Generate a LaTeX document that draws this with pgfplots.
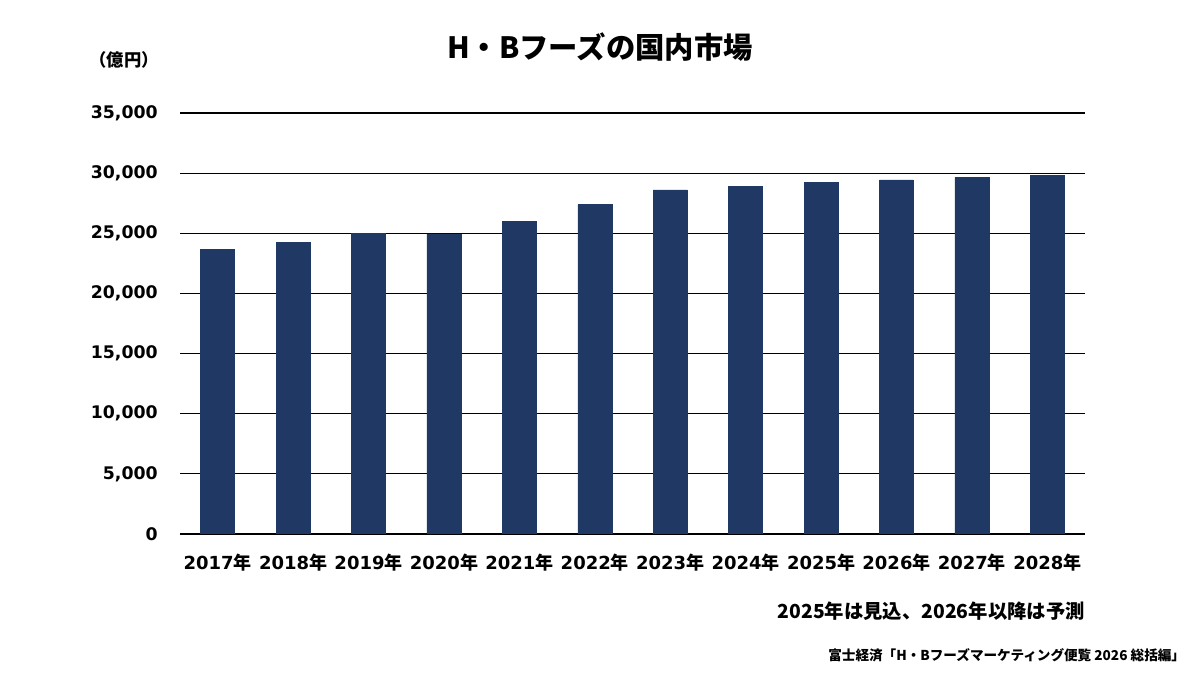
\documentclass[border=0pt]{standalone}
\usepackage{fontspec}
\setmainfont{DejaVu Sans}
\newfontfamily\jp{Noto Sans CJK JP}
\usepackage{pgfplots}
\pgfplotsset{compat=1.18}
\definecolor{barnavy}{RGB}{31,56,100}

\begin{document}
\begin{tikzpicture}
\useasboundingbox (0,0) rectangle (900pt,506.25pt);
\begin{axis}[
  at={(135pt,105.75pt)}, anchor=south west,
  scale only axis, width=678.75pt, height=315.75pt,
  xmin=-0.5, xmax=11.5, ymin=0, ymax=35000,
  axis line style={draw=none},
  tick style={draw=none},
  ytick={0,5000,...,35000},
  scaled y ticks=false,
  ymajorgrids, major grid style={black, line width=0.8pt},
  xtick={0,...,11},
  xticklabels={2017{\jp 年},2018{\jp 年},2019{\jp 年},2020{\jp 年},2021{\jp 年},2022{\jp 年},
               2023{\jp 年},2024{\jp 年},2025{\jp 年},2026{\jp 年},2027{\jp 年},2028{\jp 年}},
  /pgf/number format/.cd, fixed, 1000 sep={,}, assume math mode=true,
  /pgfplots/.cd,
  yticklabel style={font=\fontsize{13}{15}\selectfont\bfseries, inner sep=0pt, xshift=-16.5pt},
  xticklabel style={font=\fontsize{13.5}{15}\selectfont\bfseries, inner sep=0pt, yshift=-15pt},
]
\addplot[ybar, bar width=25.5pt, fill=barnavy, draw=barnavy] coordinates {
  (0,23670) (1,24250) (2,24990) (3,24960) (4,26000) (5,27380)
  (6,28600) (7,28930) (8,29240) (9,29430) (10,29650) (11,29790)
};
\end{axis}
\node[font=\jp\fontsize{22}{25}\selectfont\bfseries] at (450pt,471pt) {H・Bフーズの国内市場};
\node[font=\jp\fontsize{13}{15}\selectfont\bfseries] at (93pt,461.25pt) {（億円）};
\node[font=\jp\fontsize{14.5}{16}\selectfont\bfseries, anchor=east, inner sep=0pt] at (813.75pt,48pt) {2025年は見込、2026年以降は予測};
\node[font=\jp\fontsize{10.2}{12}\selectfont\bfseries, anchor=east, inner sep=0pt] at (889pt,15pt) {富士経済「H・Bフーズマーケティング便覧 2026 総括編」};
\end{tikzpicture}
\end{document}
